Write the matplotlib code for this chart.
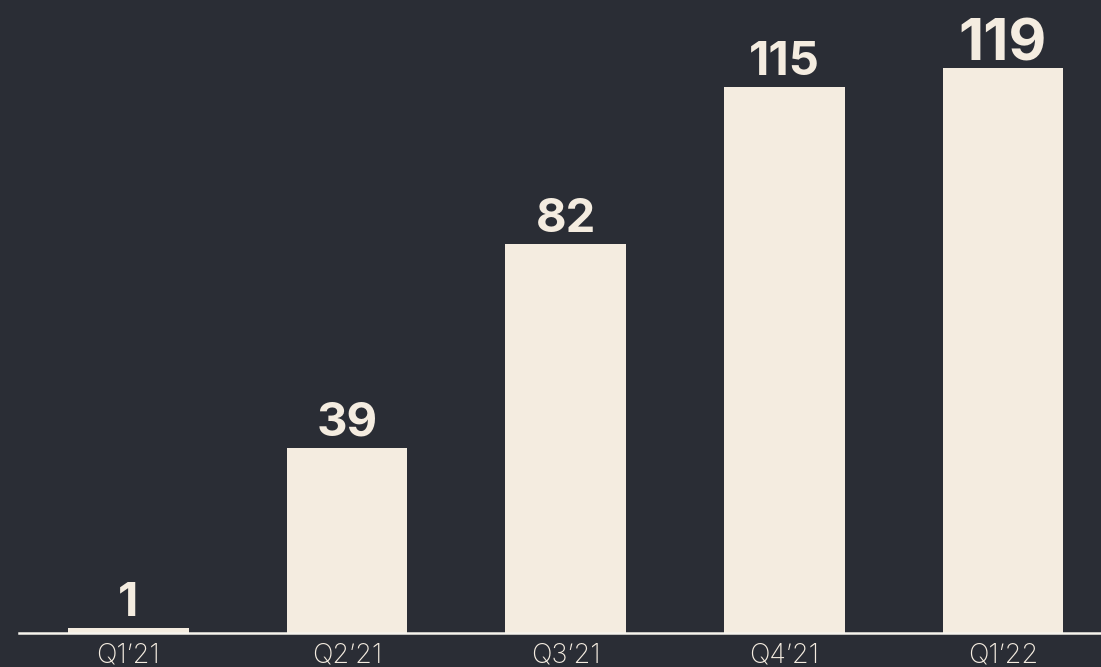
import matplotlib
matplotlib.use("Agg")
import matplotlib.pyplot as plt

categories = ["Q1\u201921", "Q2\u201921", "Q3\u201921", "Q4\u201921", "Q1\u201922"]
values = [1, 39, 82, 115, 119]

BG = "#2a2d35"
CREAM = "#f4ece0"

W, H = 1101, 667
fig = plt.figure(figsize=(W / 100, H / 100), dpi=100, facecolor=BG)
ax = fig.add_axes([19 / W, 34 / H, 1 - 19 / W, 1 - 34 / H])
ax.set_facecolor(BG)

x = list(range(len(values)))
ax.bar(x, values, width=0.553, color=CREAM, edgecolor="none", zorder=2)
ax.set_xlim(-0.5, 4.448)
ax.set_ylim(0, 633 / 4.75)

for i, v in enumerate(values):
    big = (i == len(values) - 1)
    ax.annotate(str(v), (i, v), xytext=(0, 5 if big else 8.5), textcoords="offset points",
                ha="center", va="baseline", color=CREAM, fontsize=42 if big else 34,
                fontweight="bold", family="Inter")

for s in ["top", "right", "left"]:
    ax.spines[s].set_visible(False)
ax.spines["bottom"].set_color("#f7f4ee")
ax.spines["bottom"].set_linewidth(1.8)
ax.set_yticks([])
ax.set_xticks(x)
ax.set_xticklabels(categories, color=CREAM, fontsize=19.5, family="Inter", fontweight="light")
ax.tick_params(axis="x", length=0, pad=7)

fig.savefig("out.png", dpi=100, facecolor=BG)
